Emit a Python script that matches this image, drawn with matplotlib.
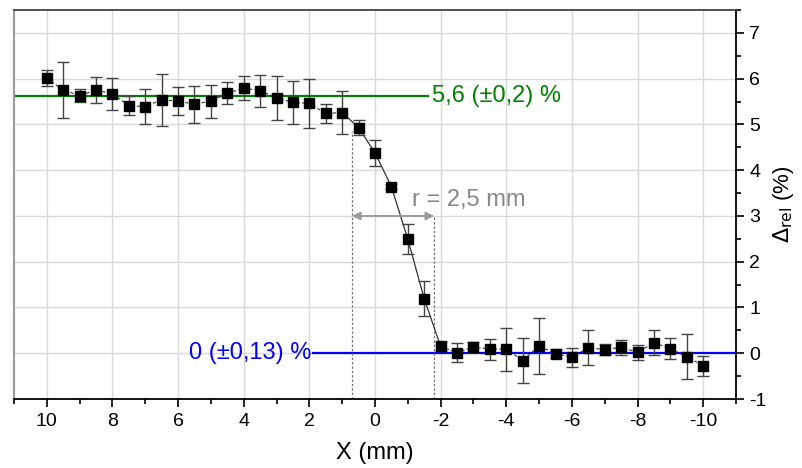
import matplotlib.pyplot as plt
import numpy as np

plt.rcParams['font.family'] = ['Liberation Sans', 'DejaVu Sans']
plt.rcParams['axes.unicode_minus'] = False

# measured profile
x_mm = np.arange(10, -10.01, -0.5)
delta = [6.01, 5.75, 5.63, 5.75, 5.67, 5.41, 5.39, 5.54, 5.51, 5.44,
         5.51, 5.68, 5.79, 5.74, 5.58, 5.48, 5.46, 5.24, 5.26, 4.93,
         4.38, 3.64, 2.49, 1.19, 0.15, 0.01, 0.14, 0.09, 0.09, -0.16,
         0.16, -0.01, -0.09, 0.12, 0.08, 0.13, 0.02, 0.23, 0.10, -0.08,
         -0.27]
err = [0.17, 0.61, 0.15, 0.28, 0.35, 0.21, 0.38, 0.57, 0.30, 0.40,
       0.36, 0.24, 0.26, 0.35, 0.48, 0.46, 0.54, 0.21, 0.48, 0.17,
       0.28, 0.05, 0.33, 0.38, 0.10, 0.21, 0.11, 0.23, 0.47, 0.50,
       0.62, 0.10, 0.20, 0.38, 0.12, 0.16, 0.17, 0.27, 0.23, 0.49,
       0.22]

high_level = 5.63
low_level = 0.0
r_left, r_right = 0.7, -1.8

fig = plt.figure(figsize=(8.03, 4.68), dpi=100)
ax = fig.add_axes([0.0174, 0.1474, 0.8992, 0.8312])

ax.set_xlim(11, -11)
ax.set_ylim(-1, 7.5)
ax.set_xticks(np.arange(10, -11, -2))
ax.set_xticks(np.arange(11, -12, -1), minor=True)
ax.set_yticks(np.arange(-1, 8, 1))
ax.set_yticks(np.arange(-1, 7.6, 0.5), minor=True)
ax.grid(True, which='major', color='#d9d9d9', lw=1)
ax.set_axisbelow(True)

ax.yaxis.tick_right()
ax.yaxis.set_label_position('right')
ax.tick_params(axis='both', which='major', direction='out', length=6, width=1.2,
               labelsize=14, color='black')
ax.tick_params(axis='both', which='minor', direction='out', length=3.5, width=1.2)
ax.tick_params(axis='x', pad=4)
for s in ['right', 'bottom']:
    ax.spines[s].set_color('black')
    ax.spines[s].set_linewidth(1.3)
ax.spines['top'].set_color('#444444')
ax.spines['top'].set_linewidth(1.3)
ax.spines['left'].set_color('#999999')
ax.spines['left'].set_linewidth(1.5)

# fitted levels
ax.plot([11, -1.6], [high_level, high_level], color='#008000', lw=1.6, zorder=2)
ax.plot([1.9, -11], [low_level, low_level], color='#0000ff', lw=1.6, zorder=2)

# connecting lines: dashed in plateaus, solid across the edge
x_arr = np.array(x_mm)
d_arr = np.array(delta)
steep = (x_arr <= 1.0) & (x_arr >= -2.0)
left = x_arr >= 1.0
right = x_arr <= -2.0
ax.plot(x_arr[left], d_arr[left], color='#333333', lw=0.8, ls=(0, (3, 2)), zorder=3)
ax.plot(x_arr[right], d_arr[right], color='#333333', lw=0.8, ls=(0, (3, 2)), zorder=3)
ax.plot(x_arr[steep], d_arr[steep], color='#333333', lw=0.9, zorder=3)
ax.errorbar(x_mm, delta, yerr=err, fmt='s', color='black', ms=7,
            ecolor='#444444', elinewidth=1, capsize=4, capthick=1, zorder=4)

# radius marker
ax.plot([r_left, r_left], [-1, 4.86], color='#777777', lw=0.9, ls=(0, (2, 1.5)), zorder=2)
ax.plot([r_right, r_right], [-1, 3.0], color='#777777', lw=0.9, ls=(0, (2, 1.5)), zorder=2)
ax.annotate('', xy=(r_left, 3.0), xytext=(r_right, 3.0),
            arrowprops=dict(arrowstyle='<|-|>', color='#999999', lw=1.3,
                            shrinkA=0, shrinkB=0, mutation_scale=12))
ax.text(-1.12, 3.35, 'r = 2,5 mm', color='#888888', fontsize=17, ha='left', va='center')

ax.text(-1.75, high_level, '5,6 (±0,2) %', color='#008000', fontsize=17,
        ha='left', va='center')
ax.text(1.95, low_level, '0 (±0,13) %', color='#0000ff', fontsize=17,
        ha='right', va='center')

ax.set_xlabel('X (mm)', fontsize=17, labelpad=9)
ax.set_ylabel(r'$\Delta_{\mathrm{rel}}$ (%)', fontsize=16, labelpad=3)

fig.savefig('out.png', dpi=100)
